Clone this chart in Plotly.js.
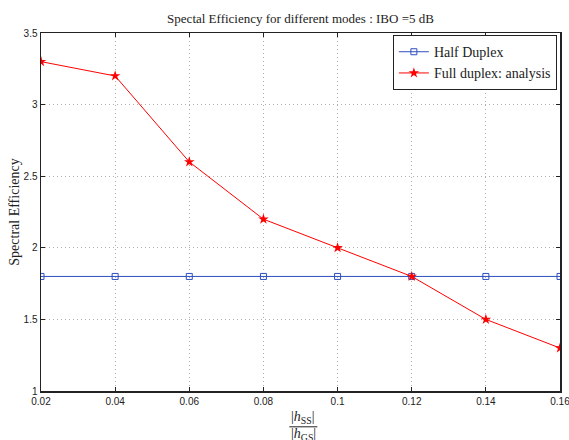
<!DOCTYPE html>
<html>
<head>
<meta charset="utf-8">
<script src="https://cdn.plot.ly/plotly-3.0.1.min.js"></script>
<style>html,body{margin:0;padding:0;background:#fff;}</style>
</head>
<body>
<div id="chart" style="width:569px;height:440px;"></div>
<script>
const ratio = [0.02, 0.04, 0.06, 0.08, 0.10, 0.12, 0.14, 0.16];
const halfDuplex = [1.8, 1.8, 1.8, 1.8, 1.8, 1.8, 1.8, 1.8];
const fullDuplex = [3.3, 3.2, 2.6, 2.2, 2.0, 1.8, 1.5, 1.3];
const xTicks = [0.02, 0.04, 0.06, 0.08, 0.1, 0.12, 0.14, 0.16];
const xTickText = ['0.02', '0.04', '0.06', '0.08', '0.1', '0.12', '0.14', '0.16'];
const yTicks = [1, 1.5, 2, 2.5, 3, 3.5];
const yTickText = ['1', '1.5', '2', '2.5', '3', '3.5'];

const traces = [
  {x: ratio, y: halfDuplex, name: 'Half Duplex', mode: 'lines+markers',
   line: {color: '#2f4fbf', width: 1},
   marker: {symbol: 'square-open', size: 6, color: '#2f4fbf', line: {width: 1}}},
  {x: ratio, y: fullDuplex, name: 'Full duplex: analysis', mode: 'lines+markers',
   line: {color: '#ff0000', width: 1},
   marker: {symbol: 'star', size: 8, color: '#ff0000', line: {width: 0}}}
];

const axisCommon = {
  showline: true, linecolor: '#222', linewidth: 1.5, mirror: 'allticks',
  ticks: 'inside', ticklen: 4, tickcolor: '#222',
  showgrid: true, gridcolor: '#b0b0b0', griddash: '1px,3px', gridwidth: 1,
  zeroline: false, ticklabeloverflow: 'allow',
  tickfont: {family: 'Liberation Sans, Arial', size: 10, color: '#222'}
};

const layout = {
  width: 569, height: 440,
  margin: {l: 41, r: 9, t: 33, b: 49},
  paper_bgcolor: '#fff', plot_bgcolor: '#fff',
  title: {text: 'Spectal Efficiency for different modes : IBO =5 dB',
          font: {family: 'Liberation Serif, Times New Roman', size: 13, color: '#222'},
          x: 0.5, xref: 'paper', y: 0.957, yanchor: 'middle'},
  xaxis: Object.assign({}, axisCommon, {range: [0.02, 0.16], tickvals: xTicks, ticktext: xTickText}),
  yaxis: Object.assign({}, axisCommon, {range: [1, 3.5], tickvals: yTicks, ticktext: yTickText,
    title: {text: 'Spectral Efficiency', standoff: 0,
            font: {family: 'Liberation Serif, Times New Roman', size: 14, color: '#222'}}}),
  legend: {x: 0.994, y: 0.994, xanchor: 'right', yanchor: 'top',
           bgcolor: '#fff', bordercolor: '#222', borderwidth: 1,
           font: {family: 'Liberation Serif, Times New Roman', size: 14, color: '#222'},
           tracegroupgap: 0, itemwidth: 30},
  showlegend: true,
  annotations: [
    {text: '|<i>h</i><sub>SS</sub>|', xref: 'paper', yref: 'paper', x: 0.5056, y: -0.074,
     xanchor: 'center', yanchor: 'middle', showarrow: false,
     font: {family: 'Liberation Serif, Times New Roman', size: 14, color: '#222'}},
    {text: '|<i>h</i><sub>GS</sub>|', xref: 'paper', yref: 'paper', x: 0.5056, y: -0.122,
     xanchor: 'center', yanchor: 'middle', showarrow: false,
     font: {family: 'Liberation Serif, Times New Roman', size: 14, color: '#222'}}
  ],
  shapes: [
    {type: 'line', xref: 'paper', yref: 'paper', x0: 0.4785, x1: 0.5325, y0: -0.1, y1: -0.1,
     line: {color: '#222', width: 1}}
  ]
};

Plotly.newPlot('chart', traces, layout, {displayModeBar: false, staticPlot: true});
</script>
</body>
</html>
